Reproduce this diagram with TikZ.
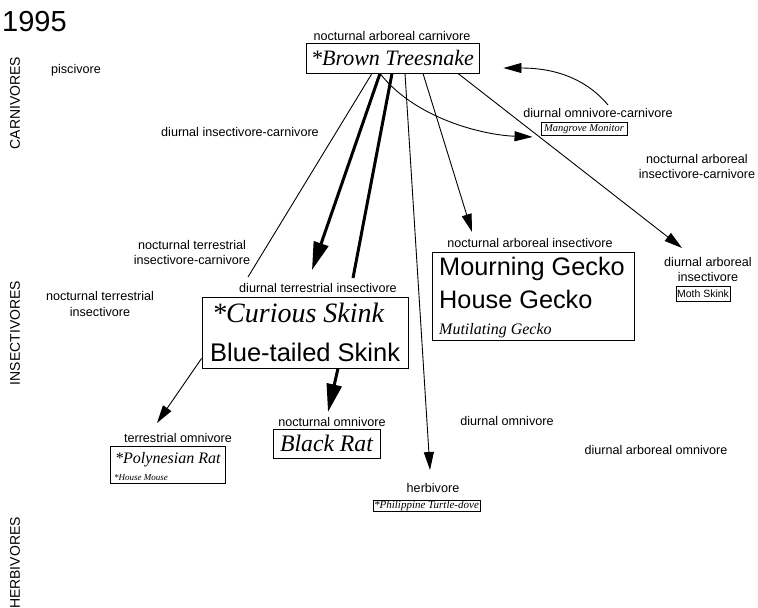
\documentclass[tikz,border=0pt]{standalone}
\usepackage{fontspec}
\setsansfont{Liberation Sans}
\newfontfamily\spfont{Liberation Serif}
\usetikzlibrary{arrows.meta}

\begin{document}
\begin{tikzpicture}[x=1pt,y=-1pt,
    lab/.style={font=\sffamily\fontsize{12.6}{15.5}\selectfont,align=center,inner sep=0pt},
    grp/.style={font=\sffamily\fontsize{14}{14}\selectfont,rotate=90,inner sep=0pt},
    spbox/.style={draw,line width=0.9pt,inner sep=0pt},
    sptext/.style={anchor=base west,inner sep=0pt},
    thinarrow/.style={line width=0.9pt,-{Triangle[length=18pt,width=10pt]}},
    fatarrow/.style={line width=3pt,-{Triangle[length=28pt,width=15pt]}}]
    \fill[white] (0,0) rectangle (758,608);
    \useasboundingbox (0,0) rectangle (758,608);

    % year and the three groups down the left side
    \node[anchor=west,inner sep=0pt,font=\sffamily\fontsize{29}{29}\selectfont] (year) at (2,22) {1995};
    \node[grp] (carn) at (15,103) {CARNIVORES};
    \node[grp] (insect) at (15,333) {INSECTIVORES};
    \node[grp] (herb) at (15,563) {HERBIVORES};

    % guild labels
    \node[lab] (pisc) at (76,70) {piscivore};
    \node[lab] (dic) at (240,132) {diurnal insectivore-carnivore};
    \node[lab] (ntic) at (192,252.5) {nocturnal terrestrial\\insectivore-carnivore};
    \node[lab] (nti) at (100,304) {nocturnal terrestrial\\insectivore};
    \node[lab] (nac) at (392,36) {nocturnal arboreal carnivore};
    \node[lab] (doc) at (598,113) {diurnal omnivore-carnivore};
    \node[lab] (naic) at (697,166.5) {nocturnal arboreal\\insectivore-carnivore};
    \node[lab] (dti) at (318,288) {diurnal terrestrial insectivore};
    \node[lab] (nai) at (530,243) {nocturnal arboreal insectivore};
    \node[lab] (dai) at (708,269.5) {diurnal arboreal\\insectivore};
    \node[lab] (tom) at (178,438) {terrestrial omnivore};
    \node[lab] (nom) at (332,422) {nocturnal omnivore};
    \node[lab] (dom) at (507,421) {diurnal omnivore};
    \node[lab] (daom) at (656,450) {diurnal arboreal omnivore};
    \node[lab] (hbv) at (433,488) {herbivore};

    % species boxes
    \node[spbox,minimum width=173pt,minimum height=30pt,font=\spfont\itshape\fontsize{22}{22}\selectfont] (snake) at (392.5,58) {*Brown Treesnake};
    \node[spbox,minimum width=86pt,minimum height=13pt,font=\spfont\itshape\fontsize{10.5}{10.5}\selectfont] (monitor) at (584,129) {Mangrove Monitor};
    \node[spbox,minimum width=54pt,minimum height=15pt,font=\sffamily\fontsize{10.5}{10.5}\selectfont] (moth) at (703,294) {Moth Skink};
    \node[spbox,minimum width=107pt,minimum height=29pt,font=\spfont\itshape\fontsize{23.7}{24}\selectfont] (brat) at (326.5,443.5) {Black Rat};
    \node[spbox,minimum width=107pt,minimum height=11pt,font=\spfont\itshape\fontsize{11}{11}\selectfont] (dove) at (426.5,505.5) {*Philippine Turtle-dove};

    \node[spbox,minimum width=206pt,minimum height=71pt] (skink) at (305,332.5) {};
    \node[sptext,font=\spfont\itshape\fontsize{28}{28}\selectfont] (skinkA) at (212,322) {*Curious Skink};
    \node[sptext,font=\sffamily\fontsize{25.5}{26}\selectfont] (skinkB) at (210,361) {Blue-tailed Skink};

    \node[spbox,minimum width=202pt,minimum height=88pt] (gecko) at (533,296) {};
    \node[sptext,font=\sffamily\fontsize{25.3}{26}\selectfont] (geckoA) at (439,275) {Mourning Gecko};
    \node[sptext,font=\sffamily\fontsize{25.3}{26}\selectfont] (geckoB) at (439,308) {House Gecko};
    \node[sptext,font=\spfont\itshape\fontsize{16}{16}\selectfont] (geckoC) at (439,334) {Mutilating Gecko};

    \node[spbox,minimum width=115pt,minimum height=37pt] (prat) at (167.5,464.5) {};
    \node[sptext,font=\spfont\itshape\fontsize{16}{16}\selectfont] (pratA) at (115,463) {*Polynesian Rat};
    \node[sptext,font=\spfont\itshape\fontsize{9}{9}\selectfont] (pratB) at (114,480.5) {*House Mouse};

    % what the treesnake links to
    \draw[line width=0.9pt] ([xshift=-20.5pt]snake.south) -- ([xshift=-70pt,yshift=11pt]dti.center);
    \draw[fatarrow] ([xshift=-12.5pt]snake.south) -- ([xshift=-6pt,yshift=18pt]dti.center);
    \draw[line width=3pt] ([xshift=-0.5pt]snake.south) -- ([xshift=35pt,yshift=10pt]dti.center);
    \draw[thinarrow] ([xshift=-12.5pt]snake.south) .. controls +(35,45) and +(-50,-2) .. ([xshift=-8pt,yshift=-1pt]monitor.south west);
    \draw[thinarrow] ([xshift=12.5pt]snake.south) -- ([xshift=-3pt,yshift=18pt]hbv.center);
    \draw[thinarrow] ([xshift=30.5pt]snake.south) -- ([xshift=-58pt,yshift=11pt]nai.center);
    \draw[thinarrow] ([xshift=65.5pt]snake.south) -- ([xshift=-26pt,yshift=21.5pt]dai.center);
    \draw[thinarrow] ([xshift=10pt,yshift=8pt]doc.center) .. controls +(-25,-30) and +(45,0) .. ([xshift=24pt,yshift=-10pt]snake.east);

    % and from the skinks
    \draw[thinarrow] ([yshift=10pt]skink.south west) -- ([xshift=-21pt,yshift=15pt]tom.center);
    \draw[fatarrow] ([xshift=33pt]skink.south) -- ([xshift=-4pt,yshift=10pt]nom.center);
\end{tikzpicture}
\end{document}
